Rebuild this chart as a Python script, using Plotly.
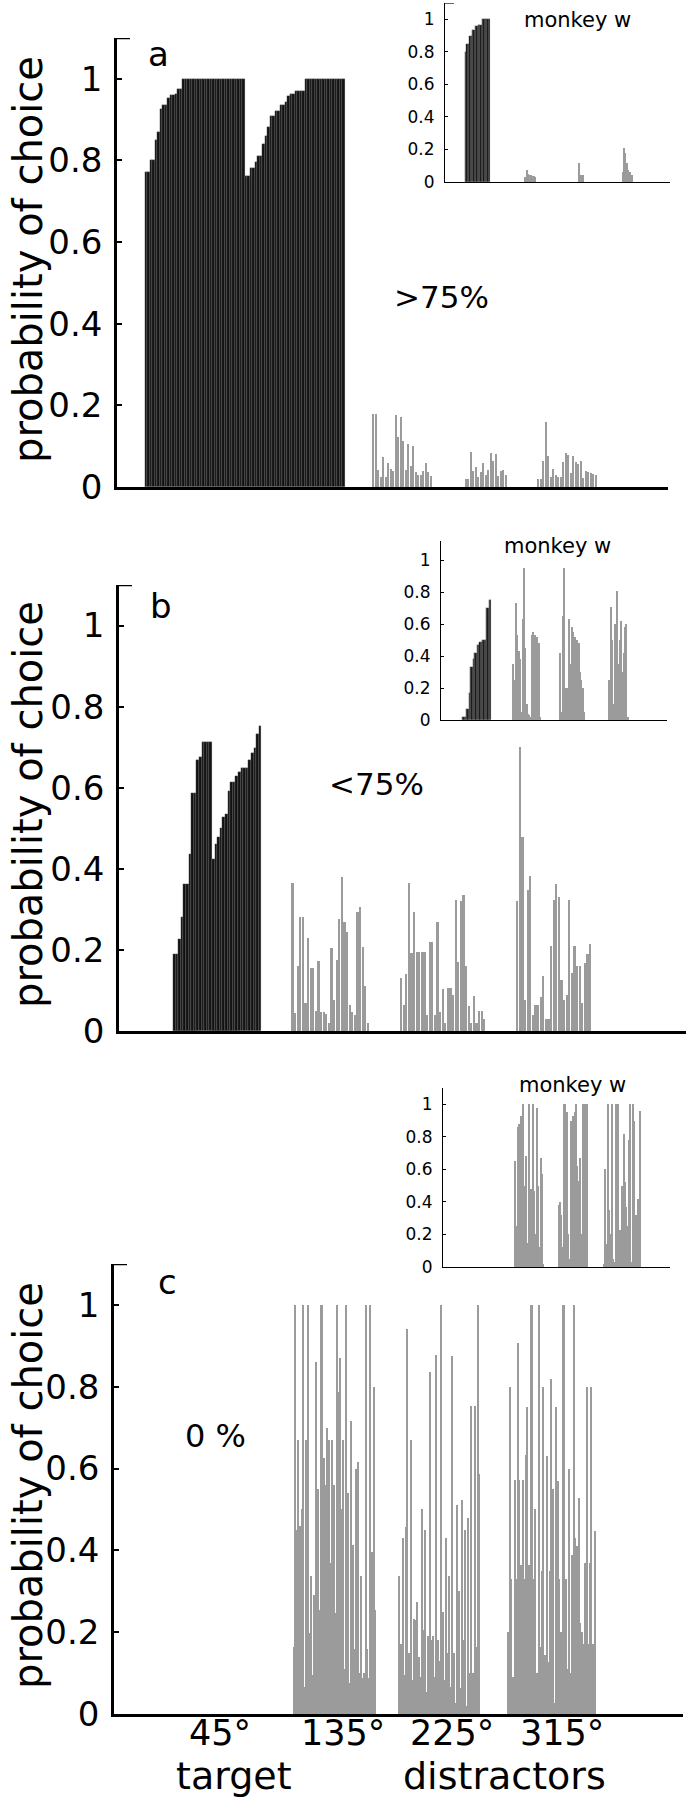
import plotly.graph_objects as go

# ---------------- data: probability of choice, one bar per session ----------------
# panel a (>75 % target choice)
a_target = [0.772, 0.772, 0.80, 0.80, 0.85, 0.87, 0.926, 0.935, 0.935, 0.953,
            0.96, 0.96, 0.963, 0.975, 0.975, 1.0, 1.0, 1.0, 1.0, 1.0,
            1.0, 1.0, 1.0, 1.0, 1.0, 1.0, 1.0, 1.0, 1.0, 1.0,
            1.0, 1.0, 1.0, 1.0, 1.0, 1.0, 1.0, 1.0, 1.0, 1.0,
            0.763, 0.763, 0.782, 0.782, 0.797, 0.81, 0.81, 0.84, 0.86, 0.883,
            0.909, 0.909, 0.921, 0.921, 0.935, 0.935, 0.942, 0.958, 0.963, 0.963,
            0.97, 0.97, 0.97, 0.97, 1.0, 1.0, 1.0, 1.0, 1.0, 1.0,
            1.0, 1.0, 1.0, 1.0, 1.0, 1.0, 1.0, 1.0, 1.0, 1.0]
a_d135 = [0.18, 0.18, 0.042, 0.024, 0.074, 0.024, 0.06, 0.044, 0.04, 0.176, 0.123, 0.172,
          0.112, 0.042, 0.106, 0.051, 0.1, 0.036, 0.03, 0.03, 0.04, 0.058, 0.036, 0.026]
a_d225 = [0.02, 0.02, 0.086, 0.04, 0.048, 0.024, 0.036, 0.058, 0.03, 0.042, 0.084, 0.064,
          0.08, 0.026, 0.04, 0.042, 0.03]
a_d315 = [0.02, 0.02, 0.064, 0.16, 0.076, 0.024, 0.044, 0.03, 0.024, 0.024, 0.062, 0.084,
          0.078, 0.034, 0.076, 0.062, 0.057, 0.064, 0.022, 0.04, 0.037, 0.034, 0.032, 0.03]

# panel a inset (monkey w)
aw_target = [0.80, 0.85, 0.85, 0.896, 0.896, 0.933, 0.933, 0.96, 0.96,
             0.966, 0.966, 0.966, 1.0, 1.0, 1.0, 1.0, 1.0, 1.0]
aw_d135 = [0.03, 0.074, 0.05, 0.045, 0.04, 0.035, 0.035, 0.03]
aw_d225 = [0.115, 0.02, 0.043, 0.043]
aw_d315 = [0.06, 0.207, 0.176, 0.115, 0.074, 0.063, 0.04, 0.04]

# panel b (<75 % target choice)
b_target = [0.19, 0.19, 0.227, 0.28, 0.363, 0.363, 0.437, 0.588, 0.588, 0.668,
            0.675, 0.712, 0.712, 0.712, 0.712, 0.425, 0.462, 0.479, 0.5, 0.528,
            0.535, 0.593, 0.615, 0.615, 0.63, 0.64, 0.649, 0.649, 0.649, 0.669,
            0.685, 0.698, 0.733, 0.753]
b_d135 = [0.366, 0.044, 0.161, 0.282, 0.282, 0.07, 0.229, 0.156, 0.156, 0.05,
          0.173, 0.047, 0.047, 0.041, 0.02, 0.204, 0.077, 0.175, 0.277, 0.381,
          0.27, 0.245, 0.064, 0.046, 0.04, 0.293, 0.305, 0.206, 0.112, 0.02]
b_d225 = [0.13, 0.064, 0.14, 0.366, 0.192, 0.293, 0.194, 0.194, 0.194, 0.194,
          0.04, 0.22, 0.22, 0.04, 0.268, 0.048, 0.103, 0.02, 0.105, 0.107,
          0.09, 0.323, 0.169, 0.32, 0.336, 0.161, 0.062, 0.02, 0.086, 0.02,
          0.05, 0.05, 0.03]
b_d315 = [0.32, 0.70, 0.478, 0.077, 0.348, 0.383, 0.04, 0.064, 0.064, 0.083,
          0.136, 0.03, 0.03, 0.21, 0.323, 0.362, 0.33, 0.125, 0.077, 0.088,
          0.323, 0.144, 0.21, 0.161, 0.161, 0.07, 0.168, 0.19, 0.214]

# panel b inset (monkey w)
bw_target = [0.02, 0.02, 0.02, 0.07, 0.07, 0.17, 0.33, 0.33, 0.38, 0.42, 0.42,
             0.47, 0.47, 0.49, 0.49, 0.50, 0.50, 0.50, 0.70, 0.70, 0.75, 0.75]
bw_d135 = [0.35, 0.25, 0.73, 0.53, 0.43, 0.38, 0.05, 0.63, 0.95, 0.45, 0.1,
           0.04, 0.03, 0.02, 0.53, 0.55, 0.53, 0.5, 0.52, 0.48, 0.02]
bw_d225 = [0.42, 0.05, 0.65, 0.95, 0.2, 0.2, 0.1, 0.63, 0.35, 0.58, 0.55,
           0.52, 0.2, 0.5, 0.48, 0.3, 0.25, 0.2, 0.05]
bw_d315 = [0.25, 0.71, 0.5, 0.1, 0.6, 0.05, 0.81, 0.35, 0.5, 0.62, 0.3,
           0.42, 0.58, 0.6, 0.02]

# panel c (0 % target choice)
c_d135 = [0.165, 1.0, 0.45, 0.67, 0.46, 0.50, 1.0, 0.067, 0.67, 1.0, 0.197, 0.337, 0.095,
          0.29, 0.86, 0.55, 0.254, 1.0, 1.0, 0.626, 0.56, 0.70, 0.67, 0.37, 0.67, 0.56,
          0.246, 1.0, 0.786, 0.87, 0.50, 0.67, 0.11, 1.0, 0.54, 0.075, 0.717, 0.413, 0.16,
          0.6, 0.615, 0.1, 0.337, 0.087, 0.1, 1.0, 0.16, 0.087, 1.0, 0.396, 0.80, 0.254]
c_d225 = [0.337, 0.172, 0.43, 0.095, 0.457, 0.94, 0.148, 0.67, 0.083, 0.233, 0.23, 0.275,
          0.14, 0.09, 0.50, 0.205, 0.45, 0.054, 0.19, 0.837, 0.18, 0.19, 0.09, 0.878,
          0.18, 0.13, 1.0, 0.25, 0.083, 0.43, 0.148, 0.337, 0.067, 0.876, 0.15, 0.026,
          0.51, 0.30, 0.063, 0.524, 0.18, 0.45, 0.02, 0.478, 0.1, 0.753, 0.1, 0.753,
          0.165, 1.0, 0.587]
c_d315 = [0.2, 0.80, 0.33, 0.09, 0.572, 0.33, 0.908, 0.572, 0.365, 0.572, 0.33, 0.633,
          0.75, 0.364, 1.0, 1.0, 0.33, 0.50, 0.1, 1.0, 0.165, 0.35, 0.80, 0.144, 0.63,
          0.128, 0.35, 0.82, 0.55, 0.026, 0.75, 0.57, 0.33, 0.2, 1.0, 1.0, 0.33, 0.11,
          0.60, 0.1, 0.389, 1.0, 0.43, 0.41, 0.529, 0.222, 0.2, 0.17, 0.37, 0.80, 0.17,
          0.37, 0.80, 0.17, 0.447]

# panel c inset (monkey w)
cw_d135 = [0.65, 0.25, 0.86, 0.88, 0.93, 0.35, 1.0, 0.5, 0.68, 0.15, 1.0, 0.28, 0.48,
           1.0, 0.47, 0.2, 0.98, 0.5, 0.12, 0.67, 0.57, 0.02]
cw_d225 = [0.38, 0.4, 0.32, 0.12, 1.0, 1.0, 0.95, 0.2, 0.05, 0.9, 0.2, 0.93, 0.95,
           1.0, 0.62, 0.53, 0.67, 0.2, 1.0, 1.0, 1.0, 1.0]
cw_d315 = [0.02, 0.6, 0.14, 1.0, 0.35, 0.2, 1.0, 0.05, 0.03, 1.0, 0.45, 1.0, 0.23, 0.1,
           0.5, 0.82, 0.52, 0.37, 0.25, 0.78, 1.0, 0.03, 1.0, 0.9, 0.32, 0.32, 0.42, 0.96]

angle_labels = ["45°", "135°", "225°", "315°"]
y_ticks = [0, 0.2, 0.4, 0.6, 0.8, 1]

# ---------------- layout helpers ----------------
W, H = 691, 1800
BLACK = "#121212"
GREY = "#9b9b9b"
FONT = "DejaVu Sans"

fig = go.Figure()


def add_panel(n, box, pitch, groups, ymax=1.1, big=True, bracket=True):
    # box is the plot area in page pixels (left, top, right, bottom); pitch = px per bar slot
    left, top, right, bottom = box
    xa = "x" if n == 1 else "x%d" % n
    ya = "y" if n == 1 else "y%d" % n
    for start, vals, color in groups:
        if color == BLACK:
            # touching bars with a faint light seam between them
            style = dict(width=1.0, marker_line=dict(color="#8c8c8c", width=0.25))
        else:
            style = dict(width=0.85, marker_line_width=0)
        fig.add_trace(go.Bar(x=[start + i + 0.5 for i in range(len(vals))], y=vals,
                             marker_color=color, xaxis=xa, yaxis=ya,
                             showlegend=False, hoverinfo="skip", **style))
    lw = 2.5 if big else 1.2
    fig.update_layout(**{
        ("xaxis" if n == 1 else "xaxis%d" % n): dict(
            domain=[left / W, right / W], range=[0, (right - left) / pitch], anchor=ya,
            showline=True, linecolor="black", linewidth=lw, showgrid=False,
            zeroline=False, ticks="", showticklabels=False, automargin=False),
        ("yaxis" if n == 1 else "yaxis%d" % n): dict(
            domain=[1 - bottom / H, 1 - top / H], range=[0, ymax], anchor=xa,
            showline=True, linecolor="black", linewidth=lw, showgrid=False,
            zeroline=False, ticks="inside", ticklen=5 if big else 3,
            tickwidth=2 if big else 1, tickcolor="black", tickvals=y_ticks,
            ticklabelstandoff=5 if big else 6, automargin=False,
            tickfont=dict(family=FONT, size=34 if big else 17, color="black")),
    })
    if bracket:
        fig.add_shape(type="line", xref=xa + " domain", yref=ya,
                      x0=0, x1=(13 if big else 9) / (right - left), y0=ymax, y1=ymax,
                      line=dict(color="black", width=lw))


add_panel(1, (117, 38, 668, 487), 2.5,
          [(11, a_target, BLACK), (102, a_d135, GREY), (139, a_d225, GREY), (168, a_d315, GREY)])
add_panel(2, (445, 3, 670, 182), 1.4,
          [(14.3, aw_target, BLACK), (57, aw_d135, GREY), (95, aw_d225, GREY), (126.4, aw_d315, GREY)],
          big=False)
add_panel(3, (119, 585, 686, 1031), 2.6,
          [(20.8, b_target, BLACK), (66.2, b_d135, GREY), (108, b_d225, GREY), (152.7, b_d315, GREY)])
add_panel(4, (441, 541, 667, 720), 1.33,
          [(15.8, bw_target, BLACK), (53.9, bw_d135, GREY), (89, bw_d225, GREY), (126, bw_d315, GREY)],
          ymax=1.12, big=False, bracket=False)
add_panel(5, (114, 1264, 683, 1714), 1.6,
          [(111.9, c_d135, GREY), (178, c_d225, GREY), (246, c_d315, GREY)])
add_panel(6, (443, 1088, 670, 1267), 1.33,
          [(54, cw_d135, GREY), (86.5, cw_d225, GREY), (120.3, cw_d315, GREY)],
          big=False, bracket=False)

# angle labels under panel c, placed on the panel-c x axis
for pos, lab in zip([66.2, 143.1, 211.2, 280], angle_labels):
    fig.add_annotation(text=lab, x=pos, xref="x5", y=1 - 1733 / H, yref="paper",
                       showarrow=False, xanchor="center", yanchor="middle",
                       font=dict(family=FONT, size=35, color="black"))


def note(text, x, y, size, angle=0):
    fig.add_annotation(text=text, x=x / W, y=1 - y / H, xref="paper", yref="paper",
                       showarrow=False, xanchor="center", yanchor="middle",
                       textangle=angle, font=dict(family=FONT, size=size, color="black"))


for t, x, y in [("a", 158, 54), ("b", 161, 606), ("c", 167, 1282)]:
    note(t, x, y, 34)
note("&gt;75%", 442, 297, 31)
note("&lt;75%", 377, 784, 31)
note("0 %", 216, 1436, 32)
for x, y in [(577, 20), (557, 546), (572, 1085)]:
    note("monkey w", x, y, 21)
for y in [260, 805, 1486]:
    note("probability of choice", 28, y, 40, angle=-90)
note("target", 234, 1776, 38)
note("distractors", 504, 1776, 38)

fig.update_layout(width=W, height=H, margin=dict(l=0, r=0, t=0, b=0),
                  paper_bgcolor="white", plot_bgcolor="white", bargap=0,
                  barmode="overlay", showlegend=False)

# the page body has a default 8px margin; drop it so the figure sits at the page corner
fig.write_html("out.html", config={"displayModeBar": False},
               post_script="document.body.style.margin='0px';")
